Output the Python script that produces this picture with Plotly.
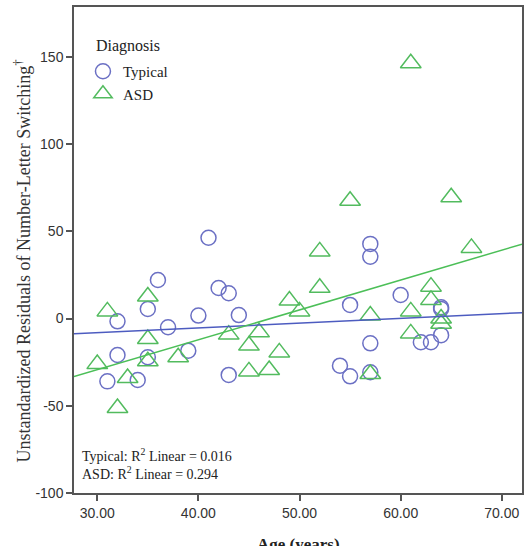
import numpy as np
import plotly.graph_objects as go

# ---- data ----
typical_age = [31, 32, 32, 34, 35, 35, 36, 37, 39, 40, 41, 42, 43, 43, 44,
               54, 55, 55, 57, 57, 57, 57, 60, 62, 63, 64, 64, 64]
typical_res = [-36.0, -1.6, -20.9, -35.2, 5.5, -22.2, 22.1, -5.0, -18.4, 1.7, 46.3, 17.5, 14.5, -32.3, 2.0,
               -27.0, 7.8, -33.1, 42.8, 35.5, -14.2, -30.8, 13.5, -13.6, -13.6, 6.5, 5.5, -9.5]

asd_age = [30, 31, 32, 33, 35, 35, 35, 38, 43, 45, 45, 46, 47, 48, 49, 50,
           52, 52, 55, 57, 57, 61, 61, 61, 63, 63, 64, 64, 65, 67]
asd_res = [-26.1, 4.1, -51.3, -34.1, 12.6, -11.7, -24.5, -22.2, -9.2, -15.5, -30.3, -7.9, -29.5, -19.4, 10.3, 4.1,
           38.5, 17.6, 67.5, 1.7, -31.8, 146.4, 4.1, -8.5, 18.3, 10.7, 0.0, -3.0, 69.5, 40.5]

r2_typical = "0.016"
r2_asd = "0.294"

x_ticks = [30, 40, 50, 60, 70]
y_ticks = [-100, -50, 0, 50, 100, 150]
x_range = [27.7, 72.0]
y_range = [-100, 178.6]

C_TYP = "#6b70c4"
C_ASD = "#52bb5e"
C_TYP_LINE = "#4d5cc0"
C_ASD_LINE = "#4cbf58"

fig = go.Figure()

fig.add_trace(go.Scatter(
    x=typical_age, y=typical_res, mode="markers", name="Typical",
    marker=dict(symbol="circle-open", size=15, color=C_TYP, line=dict(width=1.5, color=C_TYP)),
))
fig.add_trace(go.Scatter(
    x=asd_age, y=asd_res, mode="markers", name="ASD",
    marker=dict(symbol="triangle-up-open", size=18, color=C_ASD, line=dict(width=1.5, color=C_ASD)),
))

# linear fit lines across the full axis
xs = np.array(x_range)
for ages, res, col in [(typical_age, typical_res, C_TYP_LINE), (asd_age, asd_res, C_ASD_LINE)]:
    b, a = np.polyfit(ages, res, 1)
    fig.add_trace(go.Scatter(x=xs, y=a + b * xs, mode="lines", showlegend=False,
                             line=dict(color=col, width=1.5), hoverinfo="skip"))

serif = "Liberation Serif, Times New Roman, serif"
sans = "Liberation Sans, Arial, sans-serif"

plot_w = 528 - 74 - 4
plot_h = 546 - 7 - 53.3


def px_x(p):
    return (p - 74) / plot_w


def px_y(p):
    return (492.7 - p) / plot_h


fig.update_layout(
    width=528, height=546,
    margin=dict(l=74, r=4, t=7, b=53.3),
    paper_bgcolor="white", plot_bgcolor="white",
    showlegend=True,
    legend=dict(
        font=dict(family=serif, size=15, color="#222"),
        x=px_x(83), y=px_y(55), xanchor="left", yanchor="top",
        bgcolor="rgba(0,0,0,0)", borderwidth=0,
        tracegroupgap=0,
    ),
    xaxis=dict(
        range=x_range, tickvals=x_ticks, ticktext=[f"{v:.2f}" for v in x_ticks],
        showgrid=False, zeroline=False, showline=True, linecolor="#555", linewidth=1.5, mirror=True,
        ticks="outside", ticklen=6, tickwidth=1.5, tickcolor="#555",
        tickfont=dict(family=sans, size=14, color="#333"),
    ),
    yaxis=dict(
        range=y_range, tickvals=y_ticks, ticktext=[str(v) for v in y_ticks],
        showgrid=False, zeroline=False, showline=True, linecolor="#555", linewidth=1.5, mirror=True,
        ticks="outside", ticklen=6, tickwidth=1.5, tickcolor="#555",
        tickfont=dict(family=sans, size=14, color="#333"),
    ),
)

fig.add_annotation(
    text="Diagnosis",
    xref="paper", yref="paper", x=px_x(94), y=px_y(46),
    showarrow=False, font=dict(family=serif, size=16, color="#222"),
    xanchor="left", yanchor="middle",
)
fig.add_annotation(
    text="Unstandardized Residuals of Number-Letter Switching<sup>†</sup>",
    xref="paper", yref="paper", x=px_x(22), y=px_y(261),
    textangle=-90, showarrow=False, font=dict(family=serif, size=18, color="#333"),
    xanchor="center", yanchor="middle",
)
fig.add_annotation(
    text="<b>Age (years)</b>",
    xref="paper", yref="paper", x=0.5, y=px_y(533),
    showarrow=False, font=dict(family=serif, size=17, color="#222"),
    xanchor="center", yanchor="top",
)
fig.add_annotation(
    text=f"Typical: R<sup>2</sup> Linear = {r2_typical}<br>ASD: R<sup>2</sup> Linear = {r2_asd}",
    xref="paper", yref="paper", x=px_x(80), y=px_y(484),
    showarrow=False, font=dict(family=serif, size=14, color="#222"),
    xanchor="left", yanchor="bottom", align="left",
)

fig.write_html("out.html")
